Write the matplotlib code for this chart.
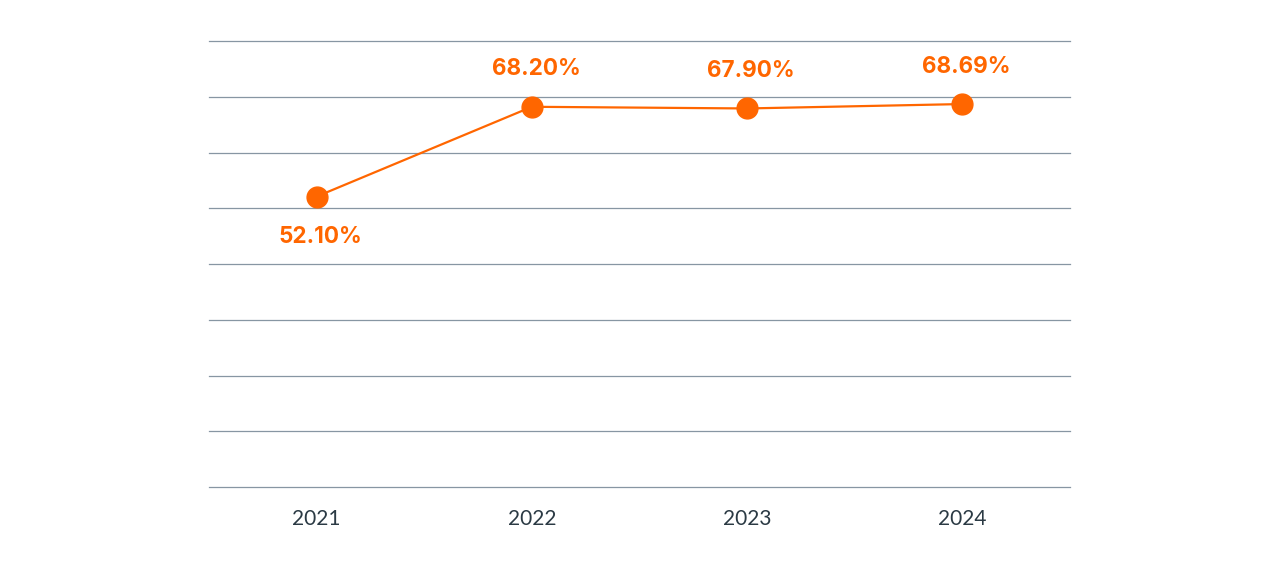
import matplotlib
matplotlib.use("Agg")
import matplotlib.pyplot as plt

years = ["2021", "2022", "2023", "2024"]
values = [52.10, 68.20, 67.90, 68.69]
labels = ["52.10%", "68.20%", "67.90%", "68.69%"]
label_below = [True, False, False, False]

orange = "#ff6600"
fig = plt.figure(figsize=(12.8, 5.68), dpi=100)
ax = fig.add_axes([209/1280, (568-487)/568, (1070-209)/1280, (487-41)/568])

x = list(range(len(years)))
ax.plot(x, values, color=orange, lw=1.6, marker="o", ms=15, zorder=3)
ax.set_xlim(-0.5, len(years)-0.5)
ax.set_ylim(0, 80)
ax.set_yticks(range(0, 81, 10))
ax.yaxis.grid(True, color="#8796a3", lw=0.9)
for gl in ax.get_ygridlines():
    gl.set_clip_on(False)
ax.set_axisbelow(True)
for s in ax.spines.values():
    s.set_visible(False)
ax.tick_params(axis="y", left=False, labelleft=False)
ax.tick_params(axis="x", bottom=False, pad=12.5)
ax.set_xticks(x)
ax.set_xticklabels(years, fontsize=15, color="#2b3a44", family="Lato")

for xi, v, lab, below in zip(x, values, labels, label_below):
    off = -29 if below else 27
    ax.annotate(lab, (xi, v), xytext=(3, off), textcoords="offset points",
                ha="center", va="center", fontsize=16.2, fontweight="bold",
                color=orange, family="Inter")

fig.savefig("out.png", dpi=100)
